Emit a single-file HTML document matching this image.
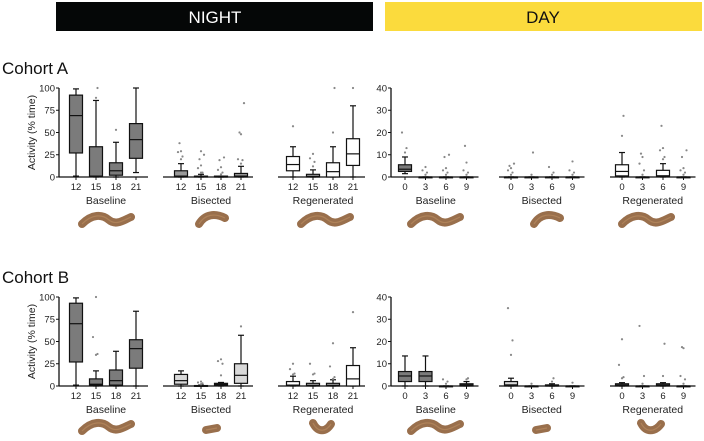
<!DOCTYPE html>
<html><head><meta charset="utf-8"><style>
body{margin:0;background:#fff;}
svg{display:block;font-family:"Liberation Sans",sans-serif;}
</style></head><body>
<svg id="fig" width="704" height="441" viewBox="0 0 704 441">
<rect x="56" y="2" width="317" height="29" fill="#050707"/>
<text x="215" y="23" font-size="17" fill="#fff" text-anchor="middle">NIGHT</text>
<rect x="385" y="2" width="317" height="29" fill="#fbdb3d"/>
<text x="543" y="23" font-size="17" fill="#111" text-anchor="middle">DAY</text>
<text x="2" y="74" font-size="17" fill="#111">Cohort A</text>
<text x="2" y="283" font-size="17" fill="#111">Cohort B</text>
<g id="plots"></g>
</svg>
<script>
// Box stats: [low whisker, q1, median, q3, high whisker]
const nightTicks = ["12","15","18","21"];
const dayTicks = ["0","3","6","9"];
const nightYTicks = [0,25,50,75,100];
const dayYTicks = [0,10,20,30,40];

const aNightBaseline = [[1,27,69,92,99],[0,0.5,1,34,86],[0,2,7,16,39],[5,21,42,60,100]];
const aNightBaselineOut = [[],[89,100],[53],[]];
const aNightBisected = [[0,0,1,7,15],[0,0,0.5,1,3],[0,0,0,1,1],[0,0,1,4,12]];
const aNightBisectedOut = [[20,23,28,29,38],[5,5,10,13,20,25,29],[3,5,8,11,19,22],[15,19,20,48,50,83]];
const aNightRegen = [[0,7,14,23,34],[0,0,1,3,8],[0,0,6,16,34],[0,13,26,43,80]];
const aNightRegenOut = [[57],[12,17,21,26],[50,100],[100]];
const aDayBaseline = [[1.5,2.5,3.5,5.5,9],[0,0,0,0,0],[0,0,0,0,0],[0,0,0,0,0]];
const aDayBaselineOut = [[11,13,20],[1,2,3,4.5],[1,2,3,4,9,10],[1,2,3,6.5,14]];
const aDayBisected = [[0,0,0,0,0],[0,0,0,0,0],[0,0,0,0,0],[0,0,0,0,0]];
const aDayBisectedOut = [[1,2,3,4,5,6],[1,11],[1,2,4.5],[1,2,3,7]];
const aDayRegen = [[0,0.5,2.5,5.5,11],[0,0,0,0,0],[0,0.5,0.5,3,6],[0,0,0,0,0]];
const aDayRegenOut = [[18.5,27.5],[1,3,6,9,10.5],[8,9,12,13,23],[1,2,3,4,9,12]];

const bNightBaseline = [[1,27,70,93,99],[0,1,2,8,17],[0,1,6,18,39],[0,20,42,52,84]];
const bNightBaselineOut = [[],[35,36,55,100],[],[]];
const bNightBisected = [[0,2,6,13,17],[0,0,0,0.5,1],[0,1,2,3,4],[0,3,12,25,57]];
const bNightBisectedOut = [[],[2,3,4,5],[12,25,28,30],[67]];
const bNightRegen = [[0,1,1,5,11],[0,0,1,3,6],[0,0,1,3,7],[0,0,8,23,43]];
const bNightRegenOut = [[13,14,19,25],[13,14,25],[8,10,22,48],[83]];
const bDayBaseline = [[0,2,4.5,6.5,13.5],[0,2,4.5,6.5,13.5],[0,0,0,0,0],[0,0,0.5,1,2]];
const bDayBaselineOut = [[],[],[1,2,3],[3,3.5]];
const bDayBisected = [[0,0,0.5,2,3.5],[0,0,0,0,0],[0,0,0,0.5,1],[0,0,0,0,0]];
const bDayBisectedOut = [[14,20.5,35],[1],[2,3.5],[1.5]];
const bDayRegen = [[0,0,0.5,1,1.5],[0,0,0,0,0],[0,0,0.5,1,1.5],[0,0,0,0,0]];
const bDayRegenOut = [[3.5,4,9.5,21],[1,4.5,27],[4.5,19],[1,3,4.5,17,17.5]];

const NS="http://www.w3.org/2000/svg";
const root=document.getElementById('plots');
function mk(tag,attrs,parent){const e=document.createElementNS(NS,tag);for(const k in attrs)e.setAttribute(k,attrs[k]);(parent||root).appendChild(e);return e;}

function panel(opts){
  const g=mk('g',{});
  
  
  const y=v=>opts.y0-(v/opts.max)*(opts.y0-opts.yTop);
  const x=i=>opts.x0+i*opts.dx;
  const n=opts.stats.length;
  const ax=mk('line',{x1:opts.axL,x2:x(n-1)+12,y1:opts.y0,y2:opts.y0,stroke:'#111','stroke-width':1.3},g);
  
  
  opts.ticks.forEach((t,i)=>{
    mk('line',{x1:x(i),x2:x(i),y1:opts.y0,y2:opts.y0+3,stroke:'#111','stroke-width':1},g);
    const tl=mk('text',{x:x(i),y:opts.y0+13,'font-size':9.5,'text-anchor':'middle',fill:'#222'},g);
    tl.textContent=t;
    
    
  });
  const gl=mk('text',{x:(x(0)+x(n-1))/2,y:opts.y0+27,'font-size':10.5,'text-anchor':'middle',fill:'#222'},g);
  gl.textContent=opts.group;
  
  
  if(opts.yAxis){
    const ya=mk('line',{x1:opts.axL,x2:opts.axL,y1:opts.yTop,y2:opts.y0,stroke:'#111','stroke-width':1.3},g);
    
    
    opts.yTicks.forEach(v=>{
      mk('line',{x1:opts.axL-3,x2:opts.axL,y1:y(v),y2:y(v),stroke:'#111','stroke-width':1},g);
      const t=mk('text',{x:opts.axL-4,y:y(v)+3.3,'font-size':9.5,'text-anchor':'end',fill:'#222'},g);
      t.textContent=v;
      
      
    });
    if(opts.yTitle){
      const cy=(opts.y0+opts.yTop)/2;
      const tt=mk('text',{x:0,y:0,'font-size':10.5,'text-anchor':'middle',fill:'#222',transform:`translate(${opts.axL-24},${cy}) rotate(-90)`},g);
      tt.textContent='Activity (% time)';
      
      
    }
  }
  opts.stats.forEach((s,i)=>{
    const cx=x(i),bw=13,cw=6;
    const [lo,q1,md,q3,hi]=s;
    mk('line',{x1:cx,x2:cx,y1:y(hi),y2:y(lo),stroke:'#111','stroke-width':1.2},g);
    mk('line',{x1:cx-cw/2,x2:cx+cw/2,y1:y(hi),y2:y(hi),stroke:'#111','stroke-width':1.2},g);
    mk('line',{x1:cx-cw/2,x2:cx+cw/2,y1:y(lo),y2:y(lo),stroke:'#111','stroke-width':1.2},g);
    const b=mk('rect',{x:cx-bw/2,y:y(q3),width:bw,height:Math.max(0.8,y(q1)-y(q3)),fill:opts.fill,stroke:'#111','stroke-width':1.2},g);
    
    
    mk('line',{x1:cx-bw/2,x2:cx+bw/2,y1:y(md),y2:y(md),stroke:'#111','stroke-width':1.2},g);
    opts.out[i].forEach((v,k)=>{
      const off=(k%2===0?-1:1)*((k%3)*1.5);
      const p=mk('circle',{cx:cx+off,cy:y(v),r:1.1,fill:'#888'},g);
      
      
    });
  });
}
function cohort(y0,yTop,d){
  const N={y0,yTop,max:100,dx:20,ticks:nightTicks,yTicks:nightYTicks};
  const D={y0,yTop,max:40,dx:20.5,ticks:dayTicks,yTicks:dayYTicks};
  panel({...N,name:d.p+'-night-baseline',x0:76,axL:59,yAxis:true,yTitle:true,group:'Baseline',stats:d.nb,out:d.nbo,fill:'#7b7b7b'});
  panel({...N,name:d.p+'-night-bisected',x0:181,axL:163,group:'Bisected',stats:d.ns,out:d.nso,fill:d.bisFill});
  panel({...N,name:d.p+'-night-regenerated',x0:293,axL:278,group:'Regenerated',stats:d.nr,out:d.nro,fill:'#fff'});
  panel({...D,name:d.p+'-day-baseline',x0:405,axL:391,yAxis:true,group:'Baseline',stats:d.db,out:d.dbo,fill:'#7b7b7b'});
  panel({...D,name:d.p+'-day-bisected',x0:511,axL:499,group:'Bisected',stats:d.ds,out:d.dso,fill:'#d9d9d9'});
  panel({...D,name:d.p+'-day-regenerated',x0:622,axL:610,group:'Regenerated',stats:d.dr,out:d.dro,fill:'#fff'});
}
cohort(177,88,{p:'cohort-a',nb:aNightBaseline,nbo:aNightBaselineOut,ns:aNightBisected,nso:aNightBisectedOut,nr:aNightRegen,nro:aNightRegenOut,db:aDayBaseline,dbo:aDayBaselineOut,ds:aDayBisected,dso:aDayBisectedOut,dr:aDayRegen,dro:aDayRegenOut,bisFill:'#9a9a9a'});
cohort(386,297,{p:'cohort-b',nb:bNightBaseline,nbo:bNightBaselineOut,ns:bNightBisected,nso:bNightBisectedOut,nr:bNightRegen,nro:bNightRegenOut,db:bDayBaseline,dbo:bDayBaselineOut,ds:bDayBisected,dso:bDayBisectedOut,dr:bDayRegen,dro:bDayRegenOut,bisFill:'#d9d9d9'});

// worm illustrations
function worm(name,d){
  const g=mk('g',{});
  
  
  mk('path',{d:d,fill:'none',stroke:'#8e5f38','stroke-width':8,'stroke-linecap':'round','stroke-linejoin':'round',opacity:0.9},g);
  mk('path',{d:d,fill:'none',stroke:'#b88a5f','stroke-width':1.2,opacity:0.7},g);
}
function full(x,y){return `M${x} ${y+10} C${x+10} ${y},${x+20} ${y},${x+27} ${y+6} S${x+42} ${y+6},${x+49} ${y+3}`;}
worm('worm-a-night-baseline',full(82,214));
worm('worm-a-night-regenerated',full(301,214));
worm('worm-a-day-baseline',full(411,214));
worm('worm-a-day-regenerated',full(622,214));
worm('worm-a-night-bisected',`M199 224 C205 214,215 213,225 218`);
worm('worm-a-day-bisected',`M534 224 C540 214,550 213,560 218`);
worm('worm-b-night-baseline',full(82,421));
worm('worm-b-day-baseline',full(411,421));
worm('worm-b-night-bisected',`M206 430 L217 428`);
worm('worm-b-day-bisected',`M536 430 L547 428`);
worm('worm-b-night-regenerated',`M313 423 C318 433,326 432,331 424`);
worm('worm-b-day-regenerated',`M641 423 C646 433,655 432,661 424`);
</script>
</body></html>
